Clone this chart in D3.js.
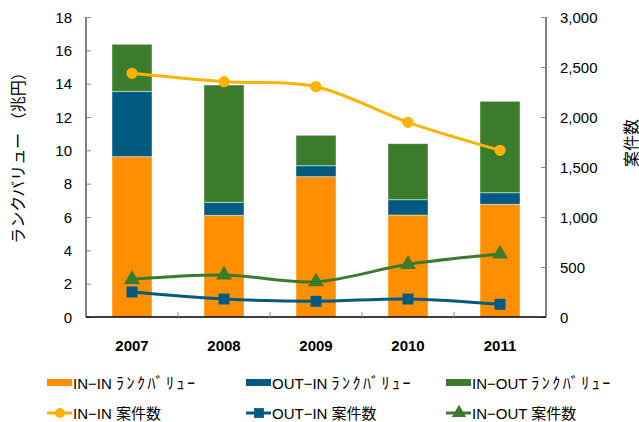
<!DOCTYPE html>
<html>
<head>
<meta charset="utf-8">
<script src="https://cdn.jsdelivr.net/npm/d3@7"></script>
<style>
  body { margin: 0; background: #fff; }
  text { font-family: "Liberation Sans", Arial, "Noto Sans CJK JP", sans-serif; fill: #000; }
</style>
</head>
<body>
<div id="chart"></div>
<script>
const years = ["2007", "2008", "2009", "2010", "2011"]
// ランクバリュー (兆円), stacked
const inIn = [9.62, 6.1, 8.42, 6.12, 6.76]
const outIn = [3.92, 0.78, 0.66, 0.92, 0.7]
const inOut = [2.82, 7.04, 1.82, 3.36, 5.48]
// 案件数
const inInCount = [2437, 2353, 2303, 1947, 1667]
const outInCount = [250, 180, 157, 180, 127]
const inOutCount = [377, 420, 353, 527, 630]
const leftTicks = [0, 2, 4, 6, 8, 10, 12, 14, 16, 18]
const rightTicks = [0, 500, 1000, 1500, 2000, 2500, 3000]

const orange = "#ff8f00", yellow = "#ffb300", blue = "#005a82", green = "#3a7b2c"

const W = 639, H = 422
const margin = {top: 17, bottom: 105, left: 86, right: 93}

const svg = d3.select("#chart").append("svg")
  .attr("width", W).attr("height", H)

const x = d3.scaleBand().domain(years)
  .range([margin.left, W - margin.right])
  .paddingInner(0.565).paddingOuter(0.2825)
const y = d3.scaleLinear().domain([0, 18]).range([H - margin.bottom, margin.top])
const y2 = d3.scaleLinear().domain([0, 3000]).range([H - margin.bottom, margin.top])

// stacked bars
const rows = years.map((yr, i) => ({year: yr, inIn: inIn[i], outIn: outIn[i], inOut: inOut[i]}))
const stack = d3.stack().keys(["inIn", "outIn", "inOut"])(rows)
const barColors = {inIn: orange, outIn: blue, inOut: green}

svg.selectAll("g.layer")
  .data(stack)
  .enter().append("g")
    .attr("class", "layer")
    .attr("fill", d => barColors[d.key])
  .selectAll("rect")
  .data(d => d)
  .enter().append("rect")
    .attr("x", d => x(d.data.year))
    .attr("width", x.bandwidth())
    .attr("y", d => y(d[1]))
    .attr("height", d => y(d[0]) - y(d[1]))
    .attr("stroke", "rgba(255,255,255,0.45)")
    .attr("stroke-width", 1)

// axes
const leftAxis = svg.append("g")
  .attr("transform", `translate(${margin.left},0)`)
  .call(d3.axisRight(y).tickValues(leftTicks).tickSize(5).tickFormat(d3.format("d")))
leftAxis.selectAll("text").remove()
leftAxis.selectAll(".tick line").attr("stroke", "#888")
leftAxis.select(".domain").attr("stroke", "#000").attr("d", `M0,${y(18)}V${y(0)}`)

svg.selectAll("text.lt")
  .data(leftTicks)
  .enter().append("text")
    .attr("class", "lt")
    .attr("x", 72)
    .attr("y", d => y(d) + 5.5)
    .attr("text-anchor", "end")
    .attr("font-size", 15)
    .text(d => d)

const rightAxis = svg.append("g")
  .attr("transform", `translate(${W - margin.right},0)`)
  .call(d3.axisLeft(y2).tickValues(rightTicks).tickSize(5))
rightAxis.selectAll("text").remove()
rightAxis.selectAll(".tick line").attr("stroke", "#888")
rightAxis.select(".domain").attr("stroke", "#000").attr("d", `M0,${y2(3000)}V${y2(0)}`)

svg.selectAll("text.rt")
  .data(rightTicks)
  .enter().append("text")
    .attr("class", "rt")
    .attr("x", 560)
    .attr("y", d => y2(d) + 5.5)
    .attr("font-size", 15)
    .text(d => d3.format(",")(d))

// bottom axis
svg.append("line")
  .attr("x1", margin.left).attr("x2", W - margin.right)
  .attr("y1", y(0)).attr("y2", y(0))
  .attr("stroke", "#000").attr("stroke-width", 1.5)
svg.selectAll("line.xt")
  .data(years.slice(1))
  .enter().append("line")
    .attr("class", "xt")
    .attr("x1", d => x(d) - x.step() * x.paddingInner() / 2)
    .attr("x2", d => x(d) - x.step() * x.paddingInner() / 2)
    .attr("y1", y(0)).attr("y2", y(0) - 5)
    .attr("stroke", "#888")

svg.selectAll("text.xl")
  .data(years)
  .enter().append("text")
    .attr("class", "xl")
    .attr("x", d => x(d) + x.bandwidth() / 2)
    .attr("y", 351)
    .attr("text-anchor", "middle")
    .attr("font-size", 15)
    .attr("font-weight", "bold")
    .text(d => d)

// axis titles
svg.append("text")
  .attr("transform", "translate(24,154) rotate(-90)")
  .attr("text-anchor", "middle")
  .attr("font-size", 16)
  .text("ランクバリュー （兆円）")

svg.append("text")
  .attr("transform", "translate(637,143) rotate(-90)")
  .attr("text-anchor", "middle")
  .attr("font-size", 16)
  .text("案件数")

// lines
const cx = d => x(d) + x.bandwidth() / 2
const line = d3.line().curve(d3.curveCatmullRom.alpha(0.5))
const series = [
  {values: inInCount, color: yellow, marker: "circle"},
  {values: outInCount, color: blue, marker: "square"},
  {values: inOutCount, color: green, marker: "triangle"}
]
const symbols = {circle: d3.symbolCircle, square: d3.symbolSquare, triangle: d3.symbolTriangle}
const sizes = {circle: 100, square: 120, triangle: 110}

series.forEach(s => {
  const pts = years.map((yr, i) => [cx(yr), y2(s.values[i])])
  svg.append("path")
    .attr("d", line(pts))
    .attr("fill", "none")
    .attr("stroke", s.color)
    .attr("stroke-width", 3)
  svg.selectAll(null)
    .data(pts)
    .enter().append("path")
      .attr("transform", d => `translate(${d[0]},${d[1]})`)
      .attr("d", d3.symbol().type(symbols[s.marker]).size(sizes[s.marker]))
      .attr("fill", s.color)
})

// legend
const legendItems = [
  {label: "IN−IN", suffix: "ﾗﾝｸﾊﾞﾘｭｰ", color: orange, type: "bar"},
  {label: "OUT−IN", suffix: "ﾗﾝｸﾊﾞﾘｭｰ", color: blue, type: "bar"},
  {label: "IN−OUT", suffix: "ﾗﾝｸﾊﾞﾘｭｰ", color: green, type: "bar"},
  {label: "IN−IN", suffix: "案件数", color: yellow, type: "circle"},
  {label: "OUT−IN", suffix: "案件数", color: blue, type: "square"},
  {label: "IN−OUT", suffix: "案件数", color: green, type: "triangle"}
]
const colX = [47, 246, 446]
const rowY = [383, 413]

const leg = svg.selectAll("g.leg")
  .data(legendItems)
  .enter().append("g")
    .attr("class", "leg")
    .attr("transform", (d, i) => `translate(${colX[i % 3]},${rowY[Math.floor(i / 3)]})`)

leg.filter(d => d.type === "bar").append("rect")
  .attr("x", 0).attr("y", -4).attr("width", 25).attr("height", 7)
  .attr("fill", d => d.color)

leg.filter(d => d.type !== "bar").append("line")
  .attr("x1", 0).attr("x2", 25).attr("y1", 0).attr("y2", 0)
  .attr("stroke", d => d.color).attr("stroke-width", 3)
leg.filter(d => d.type !== "bar").append("path")
  .attr("transform", "translate(13,0)")
  .attr("d", d => d3.symbol().type(symbols[d.type]).size(sizes[d.type] * 0.8)())
  .attr("fill", d => d.color)

const lt = leg.append("text")
  .attr("x", 26)
  .attr("y", 5.5)
  .attr("font-size", 15)
lt.append("tspan").text(d => d.label + " ")
lt.append("tspan")
  .attr("font-size", d => d.type === "bar" ? 16 : 15)
  .attr("letter-spacing", d => d.type === "bar" ? 2.5 : 0)
  .text(d => d.suffix)
</script>
</body>
</html>
